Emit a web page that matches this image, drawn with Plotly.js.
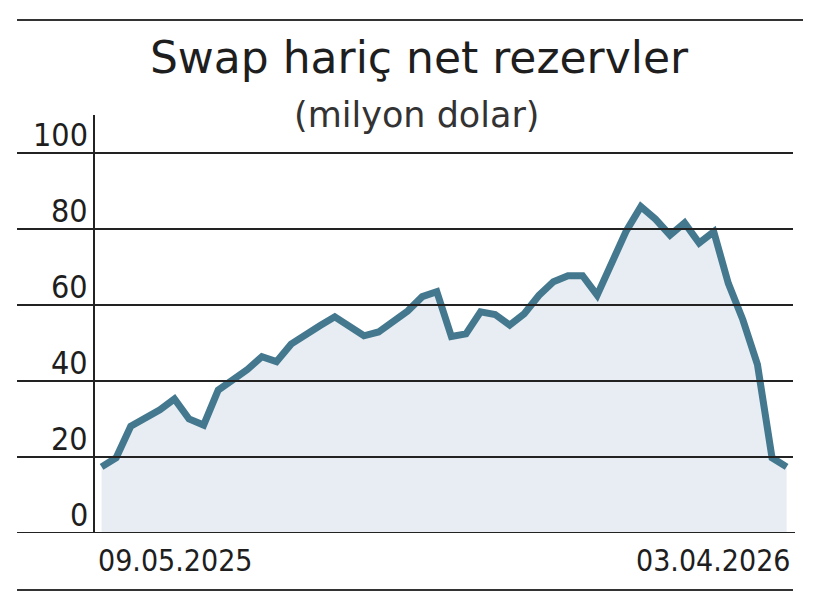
<!DOCTYPE html>
<html>
<head>
<meta charset="utf-8">
<script src="https://cdn.plot.ly/plotly-3.0.1.min.js"></script>
<style>
html,body{margin:0;padding:0;background:#fff;}
#chart{width:820px;height:598px;}
</style>
</head>
<body>
<div id="chart"></div>
<script>
// Weekly dates (Fridays) from 09.05.2025 to 03.04.2026
const dates = [
"2025-05-09","2025-05-16","2025-05-23","2025-05-30","2025-06-06","2025-06-13","2025-06-20","2025-06-27",
"2025-07-04","2025-07-11","2025-07-18","2025-07-25","2025-08-01","2025-08-08","2025-08-15","2025-08-22",
"2025-08-29","2025-09-05","2025-09-12","2025-09-19","2025-09-26","2025-10-03","2025-10-10","2025-10-17",
"2025-10-24","2025-10-31","2025-11-07","2025-11-14","2025-11-21","2025-11-28","2025-12-05","2025-12-12",
"2025-12-19","2025-12-26","2026-01-02","2026-01-09","2026-01-16","2026-01-23","2026-01-30","2026-02-06",
"2026-02-13","2026-02-20","2026-02-27","2026-03-06","2026-03-13","2026-03-20","2026-03-27","2026-04-03"
];
const reserves = [
17.4,19.8,28.1,30.3,32.4,35.3,30.0,28.4,
37.6,40.3,43.0,46.4,45.1,49.7,52.4,54.6,
56.9,54.4,51.9,52.9,55.6,58.4,62.2,63.5,
51.7,52.4,58.2,57.5,54.7,57.7,62.5,66.1,
67.7,67.7,62.6,71.0,79.5,85.9,82.6,78.4,
81.6,76.3,79.3,65.7,56.1,44.3,19.8,17.4
];
const yTicks = [0,20,40,60,80,100];
const xLabels = ["09.05.2025","03.04.2026"];
const titleText = "Swap hariç net rezervler";
const subtitleText = "(milyon dolar)";

const FONT = "'DejaVu Sans Condensed', 'Liberation Sans Narrow', 'DejaVu Sans', sans-serif";
const TFONT = "'DejaVu Sans', sans-serif";
const INK = "#1e1e1e";

const trace = {
  x: dates, y: reserves, type: "scatter", mode: "lines",
  line: {color: "#44788f", width: 7, shape: "linear"},
  fill: "tozeroy", fillcolor: "#e7edf2",
  hoverinfo: "skip"
};

const shapes = [];
yTicks.forEach(v => {
  shapes.push({type:"line", xref:"paper", yref:"y", x0:-0.1122, x1:(v===0?1.0072:1.0043), y0:v, y1:v,
    line:{color:"#222", width: v===0 ? 2 : 1.8}, layer:"above"});
});
shapes.push({type:"line", xref:"paper", yref:"paper", x0:-0.1122, x1:1.0187, y0:1.2273, y1:1.2273, line:{color:"#333", width:2.2}});
shapes.push({type:"line", xref:"paper", yref:"paper", x0:-0.1122, x1:1.0043, y0:-0.1364, y1:-0.1364, line:{color:"#333", width:2.2}});

const annotations = [];
yTicks.forEach(v => {
  annotations.push({xref:"paper", yref:"y", x:-0.007, y:v, xanchor:"right", yanchor:"bottom",
    yshift:-3, text:String(v), showarrow:false, font:{family:FONT, size:32, color:INK}});
});
annotations.push({xref:"x", yref:"paper", x:dates[0], y:-0.065, xanchor:"left", yanchor:"middle", xshift:-6,
  text:xLabels[0], showarrow:false, font:{family:FONT, size:30, color:INK}});
annotations.push({xref:"x", yref:"paper", x:dates[dates.length-1], y:-0.065, xanchor:"right", yanchor:"middle", xshift:5,
  text:xLabels[1], showarrow:false, font:{family:FONT, size:30, color:INK}});
annotations.push({xref:"paper", yref:"paper", x:0.463, y:1.0, xanchor:"center", yanchor:"middle",
  text:subtitleText, showarrow:false, font:{family:TFONT, size:35, color:"#333"}});

const layout = {
  width: 820, height: 598,
  margin: {l:95, r:30, t:115, b:65},
  paper_bgcolor:"#fff", plot_bgcolor:"#fff",
  showlegend:false,
  title: {text: titleText, font:{family:TFONT, size:44, color:INK}, x:419/820, xref:"container", xanchor:"center",
    y: 1 - 58/598, yref:"container", yanchor:"middle"},
  xaxis: {type:"date", range:["2025-05-05 20:00","2026-04-04 15:00"], showgrid:false, zeroline:false,
    showticklabels:false, ticks:"", showline:false, fixedrange:true},
  yaxis: {range:[0,110], showgrid:false, zeroline:false, showticklabels:false, ticks:"",
    showline:true, linecolor:"#222", linewidth:2, fixedrange:true},
  shapes: shapes,
  annotations: annotations
};

Plotly.newPlot("chart", [trace], layout, {displayModeBar:false, staticPlot:true});
</script>
</body>
</html>
